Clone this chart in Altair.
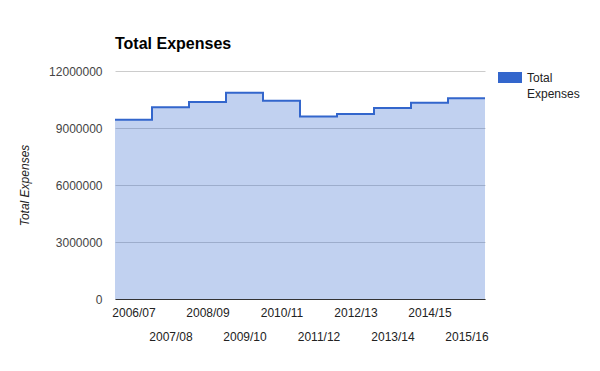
import altair as alt
import pandas as pd

# ---- data -------------------------------------------------------------
years = ["2006/07", "2007/08", "2008/09", "2009/10", "2010/11",
         "2011/12", "2012/13", "2013/14", "2014/15", "2015/16"]
expenses = [9440000, 10090000, 10370000, 10860000, 10440000,
            9600000, 9740000, 10050000, 10330000, 10560000]
series_name = "Total Expenses"
y_ticks = [0, 3000000, 6000000, 9000000, 12000000]

# step-after table: one row per year, plus a closing row at the right edge
rows = [{"i": i, "year": y, "value": v} for i, (y, v) in enumerate(zip(years, expenses))]
rows.append({"i": len(years), "year": "", "value": expenses[-1]})
df = pd.DataFrame(rows)
df["series"] = series_name

FONT = "Liberation Sans"
BLUE = "#3366cc"
W, H = 370, 228

label_list = ",".join("'%s'" % y for y in years)
label_expr = "[%s][floor(datum.value)]" % label_list

x_enc = alt.X(
    "i:Q",
    scale=alt.Scale(domain=[0, len(years)], nice=False, zero=False),
    axis=alt.Axis(
        values=[i + 0.5 for i in range(len(years))],
        labelExpr=label_expr,
        title=None,
        grid=False,
        ticks=False,
        tickSize=0,
        domain=True,
        domainColor="#333333",
        domainWidth=1,
        labelFont=FONT,
        labelFontSize=12,
        labelColor="#222222",
        labelPadding={"condition": {"test": "floor(datum.value) % 2 == 1", "value": 32}, "value": 8},
        labelOverlap=False,
        labelFlush=False,
    ),
)
y_enc = alt.Y(
    "value:Q",
    scale=alt.Scale(domain=[0, 12000000], nice=False),
    axis=alt.Axis(
        values=y_ticks,
        format="d",
        title=series_name,
        titleFont=FONT,
        titleFontSize=12,
        titleFontStyle="italic",
        titleFontWeight="normal",
        titleColor="#222222",
        titleX=-84,
        titleY=H / 2,
        domain=False,
        ticks=False,
        tickSize=0,
        labelPadding=13,
        labelFont=FONT,
        labelFontSize=12,
        labelColor="#444444",
        gridColor="#cccccc",
        gridWidth=1,
    ),
)

base = alt.Chart(df)
area = base.mark_area(interpolate="step-after", color=BLUE, opacity=0.3).encode(x=x_enc, y=y_enc)
line = base.mark_line(interpolate="step-after", color=BLUE, strokeWidth=2).encode(x="i:Q", y="value:Q")

leg_df = pd.DataFrame({"series": [series_name]})
leg_rect = alt.Chart(leg_df).mark_rect(color=BLUE).encode(
    x=alt.value(W + 13), x2=alt.value(W + 37), y=alt.value(1), y2=alt.value(12)
)
leg_text = alt.Chart(leg_df).transform_calculate(
    lines="split(datum.series, ' ')"
).mark_text(
    align="left", baseline="middle", font=FONT, fontSize=12, color="#222222", lineHeight=16.5
).encode(
    x=alt.value(W + 42), y=alt.value(6.5), text="lines:N"
)

chart = alt.layer(area, line, leg_rect, leg_text).properties(
    width=W,
    height=H,
    title=alt.TitleParams(
        series_name, anchor="start", frame="group", font=FONT, fontSize=16, fontWeight="bold",
        color="#000000", offset=13,
    ),
    padding={"left": 107, "top": 63, "right": 107, "bottom": 64},
    autosize=alt.AutoSizeParams(type="none"),
).configure_view(stroke=None)

chart.save("out.html", embed_options={"renderer": "svg", "actions": False})
